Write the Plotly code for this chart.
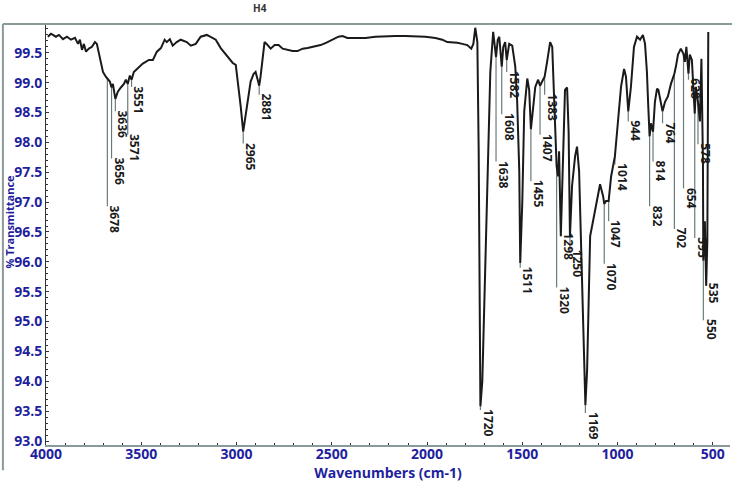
import plotly.graph_objects as go
import numpy as np

# spectrum (wavenumber cm-1, % transmittance)
wavenumber = [
    3990, 3974, 3948, 3932, 3911, 3890, 3869, 3848, 3832, 3822, 3811, 3801, 3790, 3775,
    3759, 3743, 3733, 3722, 3712, 3701, 3686, 3678, 3665, 3656, 3649, 3636, 3623, 3607,
    3591, 3581, 3571, 3560, 3551, 3539, 3518, 3492, 3460, 3439, 3418, 3397, 3377, 3366,
    3350, 3335, 3314, 3293, 3261, 3240, 3214, 3188, 3156, 3135, 3109, 3083, 3057, 3041,
    3020, 3004, 2989, 2978, 2965, 2952, 2942, 2926, 2910, 2900, 2889, 2881, 2874, 2863,
    2853, 2842, 2821, 2800, 2779, 2758, 2732, 2706, 2680, 2653, 2627, 2596, 2559, 2528,
    2496, 2465, 2444, 2418, 2376, 2323, 2271, 2218, 2166, 2114, 2061, 2009, 1956, 1920,
    1894, 1867, 1841, 1815, 1789, 1768, 1757, 1747, 1736, 1729, 1720, 1710, 1694, 1678,
    1668, 1653, 1638, 1629, 1621, 1608, 1600, 1590, 1582, 1569, 1553, 1537, 1527, 1516,
    1511, 1500, 1490, 1474, 1464, 1455, 1443, 1432, 1417, 1407, 1396, 1383, 1370, 1354,
    1343, 1333, 1320, 1312, 1307, 1298, 1286, 1276, 1265, 1257, 1250, 1239, 1223, 1213,
    1202, 1192, 1181, 1169, 1160, 1155, 1144, 1129, 1108, 1092, 1076, 1070, 1061, 1047,
    1034, 1014, 998, 982, 966, 956, 944, 930, 914, 898, 882, 867, 856, 846, 840, 832,
    825, 814, 804, 793, 786, 778, 764, 751, 736, 720, 702, 694, 683, 668, 654, 647, 639,
    628, 621, 610, 602, 595, 589, 578, 568, 560, 552, 550, 542, 535, 529, 524,
]
transmittance = [
    99.77, 99.82, 99.77, 99.80, 99.73, 99.77, 99.72, 99.75, 99.65, 99.72, 99.55, 99.65, 99.52, 99.57,
    99.60, 99.68, 99.65, 99.48, 99.32, 99.18, 99.10, 99.07, 99.02, 98.92, 98.98, 98.73, 98.85, 98.92,
    98.98, 99.05, 98.98, 99.12, 99.05, 99.18, 99.25, 99.32, 99.38, 99.38, 99.52, 99.58, 99.72, 99.68,
    99.73, 99.62, 99.68, 99.72, 99.68, 99.62, 99.65, 99.77, 99.80, 99.77, 99.72, 99.58, 99.48, 99.40,
    99.33, 99.30, 98.93, 98.60, 98.18, 98.48, 98.72, 99.02, 99.15, 99.18, 99.05, 98.95, 99.10, 99.43,
    99.68, 99.65, 99.57, 99.63, 99.63, 99.57, 99.55, 99.53, 99.53, 99.57, 99.58, 99.60, 99.63, 99.67,
    99.72, 99.77, 99.78, 99.75, 99.75, 99.75, 99.77, 99.78, 99.78, 99.78, 99.78, 99.77, 99.75, 99.72,
    99.68, 99.68, 99.67, 99.65, 99.63, 99.57, 99.65, 99.92, 99.68, 97.85, 93.58, 94.00, 96.13, 98.35,
    99.18, 99.85, 99.43, 99.72, 99.77, 99.27, 99.60, 99.68, 99.38, 99.65, 99.62, 99.27, 98.68, 97.52,
    95.98, 97.02, 98.52, 99.07, 98.88, 98.22, 98.60, 98.93, 99.05, 98.95, 99.02, 99.10, 99.35, 99.68,
    99.60, 98.85, 97.60, 97.43, 97.85, 96.43, 97.85, 98.88, 98.92, 98.18, 96.43, 97.27, 97.77, 97.93,
    97.52, 96.18, 95.02, 93.60, 94.18, 95.02, 96.43, 96.68, 97.07, 97.30, 97.10, 96.97, 97.02, 97.02,
    97.43, 97.77, 98.35, 98.93, 99.23, 99.10, 98.52, 98.93, 99.60, 99.77, 99.72, 99.80, 99.65, 99.18, 98.68, 98.10,
    98.32, 98.18, 98.68, 98.90, 98.88, 98.72, 98.52, 98.68, 98.77, 98.98, 99.15, 99.27, 99.47, 99.57, 99.48, 99.35, 99.60,
    99.15, 99.47, 99.38, 98.88, 98.48, 98.93, 98.68, 98.35, 99.40, 97.68, 96.02, 96.68, 95.60, 96.35, 99.85,
]

# labelled peaks and the transmittance where each label starts
peaks = [3678, 3656, 3636, 3571, 3551, 2965, 2881, 1720, 1638, 1608, 1582, 1511, 1455,
         1407, 1383, 1320, 1298, 1250, 1169, 1070, 1047, 1014, 944, 832, 814, 764, 702,
         654, 628, 595, 578, 550, 535]
label_top = [96.93, 97.73, 98.52, 98.13, 98.93, 97.98, 98.80, 93.52, 97.68, 98.47, 99.18,
             95.90, 97.35, 98.13, 98.80, 95.57, 96.47, 96.18, 93.47, 95.97, 96.68, 97.63,
             98.35, 96.93, 97.68, 98.32, 96.55, 97.23, 99.05, 96.40, 97.97, 95.02, 95.63]

x_ticks = [4000, 3500, 3000, 2500, 2000, 1500, 1000, 500]
y_ticks = [93.0, 93.5, 94.0, 94.5, 95.0, 95.5, 96.0, 96.5, 97.0, 97.5, 98.0, 98.5, 99.0, 99.5]

blue = "#1f1f9e"
font = "Open Sans"

# leader lines from the curve down to each label
wn_inc = np.array(wavenumber[::-1])
t_inc = np.array(transmittance[::-1])
peak_t = np.interp(peaks, wn_inc, t_inc)
lx, ly = [], []
for p, t0, t1 in zip(peaks, peak_t, label_top):
    lx += [p, p, None]
    ly += [t0, t1, None]

fig = go.Figure()
fig.add_trace(go.Scatter(x=lx, y=ly, mode="lines",
                         line=dict(color="#6b7b7b", width=1.2), hoverinfo="skip"))
fig.add_trace(go.Scatter(x=wavenumber, y=transmittance, mode="lines",
                         line=dict(color="#1a1a1a", width=2)))

for p, t1 in zip(peaks, label_top):
    fig.add_annotation(x=p, y=t1, text=str(p), showarrow=False, textangle=90,
                       xanchor="left", yanchor="top", xshift=-3, yshift=3,
                       font=dict(family=font, size=12, color="#1a1a1a", weight="bold"))

fig.add_annotation(x=0.30, y=1.038, xref="paper", yref="paper", text="H4",
                   showarrow=False, yanchor="middle",
                   font=dict(family=font, size=10, color="#333333", weight="bold"))
fig.add_annotation(x=-0.053, y=0.53, xref="paper", yref="paper", text="% Transmittance",
                   showarrow=False, textangle=-90, xanchor="center", yanchor="middle",
                   font=dict(family=font, size=11, color=blue, weight="bold"))

# outer frame lines
fig.add_shape(type="line", xref="paper", yref="paper", x0=-0.063, x1=1.003, y0=1, y1=1,
              line=dict(color="#8a9a9a", width=2))
fig.add_shape(type="line", xref="paper", yref="paper", x0=-0.063, x1=-0.063, y0=1, y1=-0.06,
              line=dict(color="#8a9a9a", width=2))

fig.update_layout(
    width=734, height=482,
    margin=dict(l=46, r=4, t=24, b=37),
    paper_bgcolor="white", plot_bgcolor="white",
    showlegend=False,
    font=dict(family=font),
)
fig.update_xaxes(
    range=[4000, 410], tickvals=x_ticks, showgrid=False, zeroline=False, automargin=False,
    showline=True, linecolor="#8a9a9a", linewidth=2,
    ticks="inside", ticklen=3, tickcolor="#333333", ticklabelstandoff=-5,
    minor=dict(dtick=100, ticks="inside", ticklen=2, tickcolor="#333333"),
    tickfont=dict(family=font, size=14, color=blue, weight="bold"),
    title=dict(text="Wavenumbers (cm-1)", standoff=0,
               font=dict(family=font, size=14, color=blue, weight="bold")),
)
fig.update_yaxes(
    range=[92.933, 99.983], tickvals=y_ticks, tickformat=".1f", showgrid=False, zeroline=False,
    automargin=False,
    showline=True, linecolor="#333333", linewidth=1,
    ticks="inside", ticklen=3, tickcolor="#333333",
    minor=dict(dtick=0.1, ticks="inside", ticklen=2, tickcolor="#333333"),
    tickfont=dict(family=font, size=14, color=blue, weight="bold"),
)

fig.write_html("out.html", config={"displayModeBar": False},
               post_script="document.body.style.margin='0';")
